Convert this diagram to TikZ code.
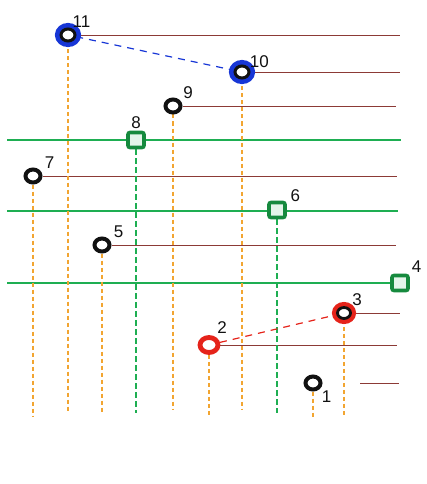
\documentclass[tikz,border=0pt]{standalone}
\usepackage{fontspec}
\setsansfont{Liberation Sans}
\usepackage{tikz}
\usetikzlibrary{backgrounds,shapes.geometric}
\definecolor{hdBrown}{HTML}{8C3A36}
\definecolor{hdGreen}{HTML}{1EAE52}
\definecolor{hdDarkGreen}{HTML}{168A3E}
\definecolor{hdOrange}{HTML}{F2A531}
\definecolor{hdBlue}{HTML}{1736D6}
\definecolor{hdRed}{HTML}{E5231A}
\definecolor{hdInk}{HTML}{111111}
\tikzset{
  hd diagram/.style={x=1pt, y=-1pt, font=\sffamily, line cap=round},
  hd dot/.style={ellipse, draw=hdInk, fill=white, line width=4pt,
    minimum width=15pt, minimum height=13pt, inner sep=0pt},
  hd blue dot/.style={hd dot, line width=3pt, minimum width=14pt,
    minimum height=12pt, preaction={draw=hdBlue, line width=12pt}},
  hd red dot/.style={hd dot, draw=hdRed, line width=4.8pt,
    minimum width=18pt, minimum height=15pt},
  hd red core dot/.style={hd dot, line width=2.8pt, minimum width=13pt,
    minimum height=11pt, preaction={draw=hdRed, line width=11pt}},
  hd square/.style={rectangle, rounded corners=2pt, draw=hdDarkGreen,
    fill=hdGreen!12, line width=3.6pt, minimum width=16pt, minimum height=15pt,
    inner sep=0pt},
  hd tag/.style={font=\sffamily\fontsize{17}{17}\selectfont, text=hdInk,
    inner sep=1pt},
  hd wire/.style={draw=hdBrown, line width=0.9pt},
  hd rail/.style={draw=hdGreen, line width=2.8pt},
  hd drop/.style={draw=hdOrange, line width=1.4pt, dash pattern=on 4pt off 3pt},
  hd green drop/.style={draw=hdGreen, line width=1.1pt,
    dash pattern=on 6pt off 3pt},
  hd blue link/.style={draw=hdBlue, line width=1.2pt, dash pattern=on 7pt off 6pt},
  hd red link/.style={draw=hdRed, line width=1.2pt, dash pattern=on 7pt off 6pt}
}

\begin{document}
\begin{tikzpicture}[hd diagram]
\useasboundingbox (0,0) rectangle (427,484);
% points
\node[hd blue dot, label={[hd tag, label distance=-1pt]60:11}] (p11) at (68,35) {};
\node[hd blue dot, label={[hd tag, label distance=-1pt]25:10}] (p10) at (242,72) {};
\node[hd dot, label={[hd tag, label distance=2pt]35:9}] (p9) at (173,106) {};
\node[hd square, label={[hd tag, label distance=1pt]90:8}] (p8) at (136,140) {};
\node[hd dot, label={[hd tag, label distance=3pt]30:7}] (p7) at (33,176) {};
\node[hd square, label={[hd tag, label distance=3pt]30:6}] (p6) at (277,210) {};
\node[hd dot, label={[hd tag, label distance=3pt]30:5}] (p5) at (102,245) {};
\node[hd square, label={[hd tag, label distance=1pt]40:4}] (p4) at (400,283) {};
\node[hd red core dot, label={[hd tag, label distance=2pt]40:3}] (p3) at (344,313) {};
\node[hd red dot, label={[hd tag, label distance=2pt]55:2}] (p2) at (209,345) {};
\node[hd dot, label={[hd tag, label distance=1pt]-40:1}] (p1) at (313,383) {};
% free ends
\coordinate (r8w) at (7,140);
\coordinate (r8e) at (401,140);
\coordinate (r6w) at (7,211);
\coordinate (r6e) at (398,211);
\coordinate (r4w) at (7,283);
\coordinate (s1w) at (360,383);
\coordinate (s1e) at (399,383);
\begin{scope}[on background layer]
% green rails
\draw[hd rail] (r8w) -- (r8e);
\draw[hd rail] (r6w) -- (r6e);
\draw[hd rail] (r4w) -- (p4);
% brown wires
\foreach \pt/\xend in {p11/400,p10/400,p9/396,p7/397,p5/396,p3/400,p2/397}
  \draw[hd wire] (\pt) -- (\pt -| \xend,0);
\draw[hd wire] (s1w) -- (s1e);
% drops
\foreach \pt/\yend in {p7/416,p11/411,p5/413,p9/410,p2/416,p10/410,p1/417,p3/417}
  \draw[hd drop] (\pt) -- (\pt |- 0,\yend);
\foreach \pt/\yend in {p8/413,p6/413}
  \draw[hd green drop] (\pt) -- (\pt |- 0,\yend);
% links
\draw[hd blue link] (p11) -- (p10);
\draw[hd red link] (p2) -- (p3);
\end{scope}
\end{tikzpicture}
\end{document}
